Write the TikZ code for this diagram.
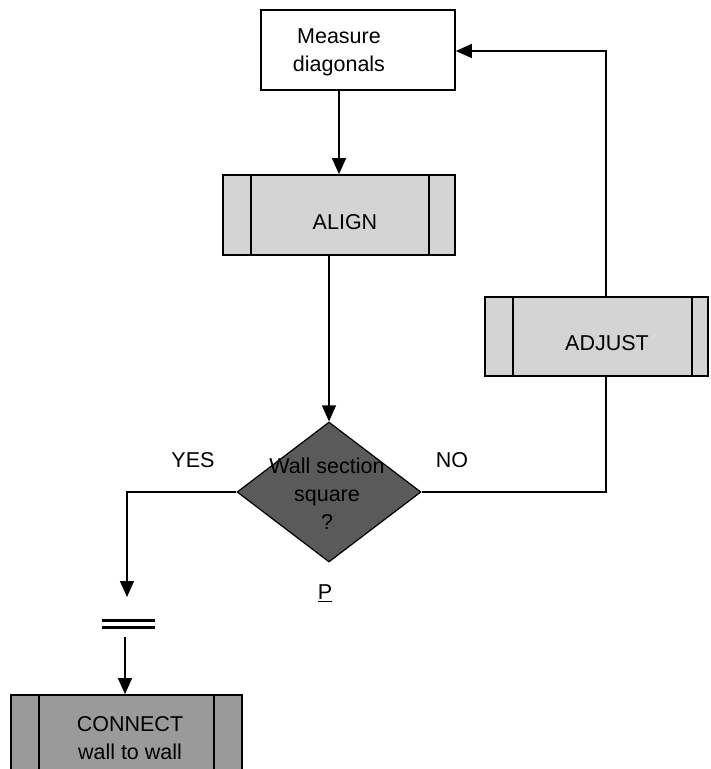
\documentclass[tikz,border=0pt]{standalone}
\usepackage{fontspec}
\setmainfont{Liberation Sans}
\usetikzlibrary{shapes.geometric,arrows.meta,calc}
\definecolor{lightbox}{HTML}{D4D4D4}
\definecolor{midbox}{HTML}{9A9A9A}
\definecolor{darkdia}{HTML}{5A5A5A}
\tikzset{
  txt/.style={font=\fontsize{21.5}{28}\selectfont, align=center, inner sep=0pt},
  plainbox/.style={draw, line width=1.7pt, inner sep=0pt},
  procbox/.style={draw, line width=1.7pt, inner sep=0pt},
  conn/.style={line width=1.7pt},
  link/.style={line width=1.4pt},
  arr/.style={line width=1.4pt, -{Triangle[length=16pt,width=14pt]}},
}
\begin{document}
\begin{tikzpicture}[x=1pt,y=-1pt]
\clip (0,0) rectangle (711,769);
\fill[white] (0,0) rectangle (711,769);

% Measure diagonals
\node[plainbox, minimum width=194pt, minimum height=80pt] (measure) at (358,50) {};
\node[txt] (mtext) at (339,52) {Measure\\diagonals};

% ALIGN
\node[procbox, fill=lightbox, minimum width=232pt, minimum height=80pt] (align) at (339,215) {};
\draw[conn] ([xshift=29pt]align.north west) -- ([xshift=29pt]align.south west);
\draw[conn] ([xshift=-27pt]align.north east) -- ([xshift=-27pt]align.south east);
\node[txt] (atext) at (345,222) {ALIGN};

% ADJUST
\node[procbox, fill=lightbox, minimum width=223pt, minimum height=79pt] (adjust) at (596.5,336.5) {};
\draw[conn] ([xshift=29pt]adjust.north west) -- ([xshift=29pt]adjust.south west);
\draw[conn] ([xshift=-17pt]adjust.north east) -- ([xshift=-17pt]adjust.south east);
\node[txt] (adtext) at (607,343) {ADJUST};

% Decision
\node[diamond, draw, line width=1.2pt, fill=darkdia, minimum width=184pt, minimum height=140pt, inner sep=0pt] (dia) at (329,492) {};
\node[txt] (dtext) at (327,494) {Wall section\\square\\?};

% CONNECT
\node[procbox, fill=midbox, minimum width=231pt, minimum height=110pt] (connect) at (126.5,750) {};
\draw[conn] ([xshift=29pt]connect.north west) -- ([xshift=29pt]connect.south west);
\draw[conn] ([xshift=-29pt]connect.north east) -- ([xshift=-29pt]connect.south east);
\node[txt] (ctext) at (130,738) {CONNECT\\wall to wall};

% Labels
\node[txt] (yes) at (193,460) {YES};
\node[txt] (no) at (452,460) {NO};
\node[txt] (p) at (325,593) {\underline{P}};

% Connectors
\draw[arr] (measure.south -| mtext) -- (align.north -| mtext);
\draw[arr] (align.south -| dia.north) -- (dia.north);

\coordinate (ytip) at (127,597);
\draw[arr] (dia.west) -| (ytip);

\coordinate (dlA) at (102,620);
\coordinate (dlB) at (155,620);
\coordinate (dlC) at (102,627);
\coordinate (dlD) at (155,627);
\draw[line width=3pt] (dlA) -- (dlB);
\draw[line width=3pt] (dlC) -- (dlD);

\coordinate (cstart) at (125,637);
\draw[arr] (cstart) -- (connect.north -| cstart);

\coordinate (nocorner) at (606,492);
\draw[link] (dia.east) -- (nocorner) -- (nocorner |- adjust.south);

\coordinate (topcorner) at (606,51);
\draw[arr] (topcorner |- adjust.north) -- (topcorner) -- (topcorner -| measure.east);
\end{tikzpicture}
\end{document}
